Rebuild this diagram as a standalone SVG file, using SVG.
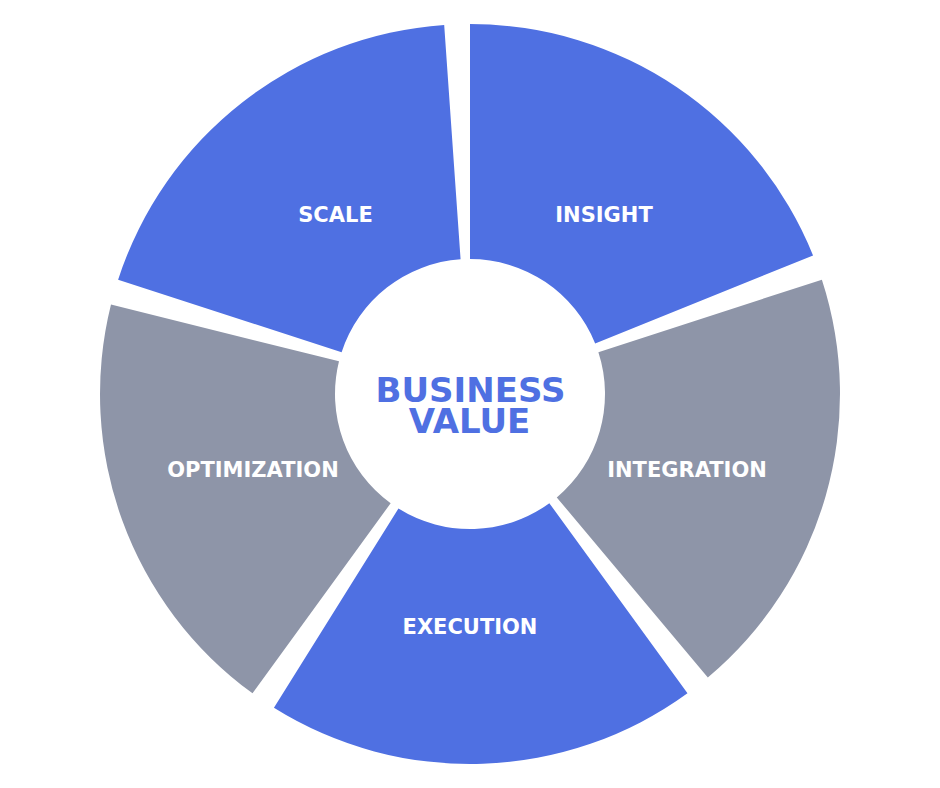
<svg xmlns="http://www.w3.org/2000/svg" width="940" height="788" viewBox="0 0 940 788">
<style>
.blue{fill:#4F70E2}
.gray{fill:#8E95A8}
.lbl{font-family:"DejaVu Sans","Liberation Sans",sans-serif;font-weight:bold;font-size:21px;fill:#ffffff;text-anchor:middle}
.ctr{font-family:"DejaVu Sans","Liberation Sans",sans-serif;font-weight:bold;font-size:34px;fill:#4F70E2;text-anchor:middle}
</style>
<rect width="940" height="788" fill="#ffffff"/>
<g id="insight">
<path class="blue" d="M470,24 A370,370 0 0 1 813.06,255.39 L595.17,343.43 A135,135 0 0 0 470,259 Z"/>
<text class="lbl" x="604" y="221.8">INSIGHT</text>
</g>
<g id="integration">
<path class="gray" d="M821.89,279.66 A370,370 0 0 1 707.83,677.43 L556.78,497.42 A135,135 0 0 0 598.39,352.28 Z"/>
<text class="lbl" x="687" y="477">INTEGRATION</text>
</g>
<g id="execution">
<path class="blue" d="M687.48,693.34 A370,370 0 0 1 273.93,707.78 L398.46,508.49 A135,135 0 0 0 549.35,503.22 Z"/>
<text class="lbl" x="470" y="634.3">EXECUTION</text>
</g>
<g id="optimization">
<path class="gray" d="M252.52,693.34 A370,370 0 0 1 110.99,304.49 L339.01,361.34 A135,135 0 0 0 390.65,503.22 Z"/>
<text class="lbl" x="253" y="477">OPTIMIZATION</text>
</g>
<g id="scale">
<path class="blue" d="M118.11,279.66 A370,370 0 0 1 444.19,24.90 L460.58,259.33 A135,135 0 0 0 341.61,352.28 Z"/>
<text class="lbl" x="335.5" y="221.8">SCALE</text>
</g>
<g id="center">
<text class="ctr" x="470.5" y="402">BUSINESS</text>
<text class="ctr" x="469.5" y="433">VALUE</text>
</g>
<g id="connectors"></g>
</svg>
